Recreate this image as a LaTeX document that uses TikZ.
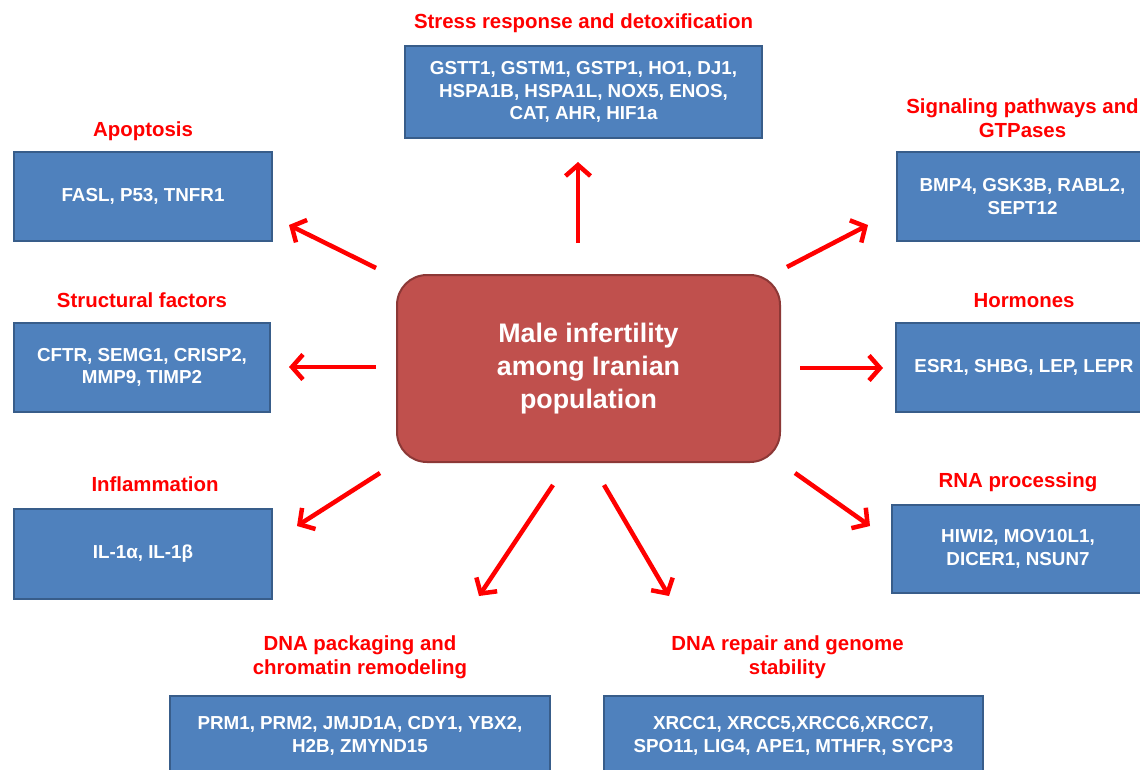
\documentclass[tikz,border=0pt]{standalone}
\usepackage{fontspec}
\setmainfont{Liberation Sans}
\usetikzlibrary{arrows.meta,positioning}
\definecolor{boxblue}{HTML}{4F81BD}
\definecolor{boxedge}{HTML}{385D8A}
\definecolor{hubred}{HTML}{C0504D}
\definecolor{hubedge}{HTML}{8C3836}
\definecolor{labred}{HTML}{FF0000}

\begin{document}
\begin{tikzpicture}[x=1pt,y=-1pt,node distance=12pt,
   genebox/.style={draw=boxedge,fill=boxblue,line width=2pt,minimum height=89pt,
               align=center,text=white,font=\fontsize{18.8}{22.5}\selectfont\bfseries},
   grouplab/.style={text=labred,align=center,inner sep=0pt,text height=14pt,
               text depth=4pt,font=\fontsize{20.4}{24}\selectfont\bfseries},
   link/.style={draw=labred,line width=4.5pt,
               -{Straight Barb[length=11pt,width=25pt,line width=4.5pt]}}]
  \clip (0,0) rectangle (1140,770);
  \fill[white] (0,0) rectangle (1140,770);
  % centre
  \node[draw=hubedge,fill=hubred,line width=2pt,rounded corners=30pt,
        minimum width=383pt,minimum height=187pt,align=center,text=white,
        font=\fontsize{26.8}{33}\selectfont\bfseries] (hub) at (588.5,368.5)
       {Male infertility\\among Iranian\\population};
  % gene groups
  \node[genebox,minimum width=357pt,minimum height=92pt] (stress) at (583.5,92)
       {GSTT1, GSTM1, GSTP1, HO1, DJ1,\\HSPA1B, HSPA1L, NOX5, ENOS,\\CAT, AHR, HIF1a};
  \node[genebox,minimum width=258pt] (apop) at (143,196.5) {FASL,\ P53,\ TNFR1};
  \node[genebox,minimum width=251pt] (signal) at (1022.5,196.5) {BMP4, GSK3B, RABL2,\\SEPT12};
  \node[genebox,minimum width=256pt] (struct) at (142,367.5) {CFTR, SEMG1, CRISP2,\\MMP9, TIMP2};
  \node[genebox,minimum width=256pt] (hormone) at (1024,367.5) {ESR1, SHBG, LEP, LEPR};
  \node[genebox,minimum width=258pt,minimum height=90pt] (inflam) at (143,554) {IL-1α, IL-1β};
  \node[genebox,minimum width=252pt,minimum height=88pt] (rnaproc) at (1018,549)
       {HIWI2, MOV10L1,\\DICER1, NSUN7};
  \node[genebox,minimum width=380pt,minimum height=80pt] (dnapack) at (360,736)
       {PRM1, PRM2, JMJD1A,\ CDY1, YBX2,\\H2B, ZMYND15};
  \node[genebox,minimum width=379pt,minimum height=80pt] (dnarep) at (793.5,736)
       {XRCC1, XRCC5,XRCC6,XRCC7,\\SPO11, LIG4, APE1,\ MTHFR, SYCP3};
  % group titles
  \node[grouplab,above=of stress] {Stress response and detoxification};
  \node[grouplab,above=10pt of apop] {Apoptosis};
  \node[grouplab,above=9pt of signal] {Signaling pathways and\\GTPases};
  \node[grouplab,above=10pt of struct] {Structural factors};
  \node[grouplab,above=10pt of hormone] {Hormones};
  \node[grouplab,above=of inflam,xshift=12pt] {Inflammation};
  \node[grouplab,above=of rnaproc] {RNA processing};
  \node[grouplab,above=16pt of dnapack] {DNA packaging and\\chromatin remodeling};
  \node[grouplab,above=16pt of dnarep,xshift=-6pt] {DNA repair and genome\\stability};
  % arrow ends
  \coordinate (s-stress) at (578,243);  \coordinate (e-stress) at (578,162);
  \coordinate (s-apop) at (376,268);    \coordinate (e-apop) at (289,225);
  \coordinate (s-signal) at (787,267);  \coordinate (e-signal) at (868,225);
  \coordinate (s-struct) at (376,367);  \coordinate (e-struct) at (289,367);
  \coordinate (s-hormone) at (800,368); \coordinate (e-hormone) at (883,368);
  \coordinate (s-inflam) at (380,473);  \coordinate (e-inflam) at (297,526);
  \coordinate (s-rnaproc) at (795,473); \coordinate (e-rnaproc) at (870,526);
  \coordinate (s-dnapack) at (553,485); \coordinate (e-dnapack) at (479,596);
  \coordinate (s-dnarep) at (604,485);  \coordinate (e-dnarep) at (669,596);
  \draw[link] (s-stress) -- (e-stress);
  \draw[link] (s-apop) -- (e-apop);
  \draw[link] (s-signal) -- (e-signal);
  \draw[link] (s-struct) -- (e-struct);
  \draw[link] (s-hormone) -- (e-hormone);
  \draw[link] (s-inflam) -- (e-inflam);
  \draw[link] (s-rnaproc) -- (e-rnaproc);
  \draw[link] (s-dnapack) -- (e-dnapack);
  \draw[link] (s-dnarep) -- (e-dnarep);
\end{tikzpicture}
\end{document}
